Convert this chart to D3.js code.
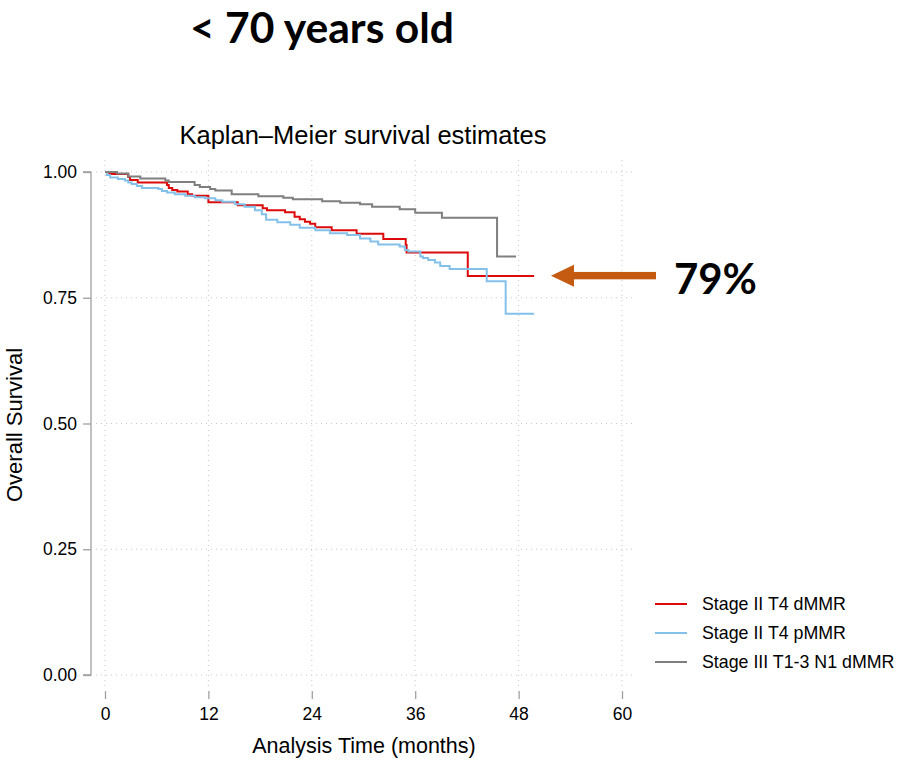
<!DOCTYPE html>
<html>
<head>
<meta charset="utf-8">
<script src="https://cdn.jsdelivr.net/npm/d3@7/dist/d3.min.js"></script>
<style>
  html, body { margin: 0; padding: 0; background: #ffffff; }
  svg { display: block; }
</style>
</head>
<body>
<script>
// ---------------- DATA ----------------
const seriesNames = ["Stage II T4 dMMR", "Stage II T4 pMMR", "Stage III T1-3 N1 dMMR"];
const seriesColors = ["#dc0a0a", "#84c1ea", "#7f7f7f"];

// Stage II T4 dMMR (red): step times (months) and survival after each step
const redTimes = [0, 0.5, 2.7, 2.9, 3.8, 7.2, 7.4, 7.8, 8.4, 9.6, 10.1, 12.0, 15.4, 18.3, 18.8, 20.9, 22.0, 22.6, 23.2, 23.8, 24.4, 26.3, 29.2, 32.3, 34.9, 35.0, 42.1];
const redSurv  = [1.000, 0.996, 0.990, 0.984, 0.979, 0.974, 0.968, 0.964, 0.961, 0.956, 0.953, 0.940, 0.934, 0.928, 0.924, 0.920, 0.911, 0.906, 0.901, 0.897, 0.890, 0.884, 0.877, 0.867, 0.855, 0.840, 0.793];
const redEnd = 49.8;

// Stage II T4 pMMR (light blue)
const blueTimes = [0, 0.2, 0.6, 1.5, 2.3, 2.7, 3.1, 3.7, 4.3, 6.2, 6.6, 7.2, 8.1, 9.3, 10.4, 11.6, 12.8, 13.6, 15.1, 16.2, 17.4, 18.2, 18.7, 20.0, 21.5, 22.6, 24.4, 26.1, 28.1, 29.6, 30.8, 31.7, 34.2, 34.8, 35.2, 36.6, 36.9, 37.5, 38.3, 38.9, 40.0, 44.3, 46.5];
const blueSurv  = [1.000, 0.994, 0.989, 0.986, 0.983, 0.979, 0.976, 0.972, 0.968, 0.966, 0.962, 0.959, 0.956, 0.953, 0.950, 0.948, 0.944, 0.941, 0.936, 0.931, 0.924, 0.916, 0.905, 0.900, 0.895, 0.889, 0.884, 0.878, 0.875, 0.868, 0.862, 0.856, 0.852, 0.845, 0.842, 0.832, 0.829, 0.825, 0.820, 0.813, 0.807, 0.783, 0.718];
const blueEnd = 49.8;

// Stage III T1-3 N1 dMMR (grey)
const greyTimes = [0, 1.4, 2.7, 4.1, 7.0, 7.4, 10.4, 11.0, 12.2, 12.8, 14.7, 17.8, 20.7, 21.8, 25.2, 27.3, 29.6, 31.0, 34.2, 36.0, 39.1, 45.5];
const greySurv  = [1.000, 0.997, 0.991, 0.987, 0.983, 0.980, 0.974, 0.970, 0.966, 0.963, 0.956, 0.952, 0.949, 0.946, 0.942, 0.939, 0.936, 0.931, 0.926, 0.919, 0.909, 0.832];
const greyEnd = 47.7;

const xTicks = [0, 12, 24, 36, 48, 60];
const yTicks = [0, 0.25, 0.5, 0.75, 1.0];

const mainTitle = "< 70 years old";
const chartTitle = "Kaplan\u2013Meier survival estimates";
const xTitle = "Analysis Time (months)";
const yTitle = "Overall Survival";
const annotationText = "79%";
const annotationValue = 0.79;

// ---------------- CHART ----------------
const W = 899, H = 761;
const svg = d3.select("body").append("svg").attr("width", W).attr("height", H);
const FONT = "'Liberation Sans', Arial, Helvetica, sans-serif";
const BOLD = "Lato, 'Open Sans', sans-serif";

const x = d3.scaleLinear().domain([0, 60]).range([105, 622]);
const y = d3.scaleLinear().domain([0, 1]).range([675, 172]);

// grid
const grid = svg.append("g");
grid.selectAll("line.h").data(yTicks).join("line")
  .attr("x1", 96).attr("x2", 634)
  .attr("y1", d => y(d)).attr("y2", d => y(d))
  .attr("stroke", "#c8c8c8").attr("stroke-width", 1).attr("stroke-dasharray", "1,4");
grid.selectAll("line.v").data(xTicks).join("line")
  .attr("y1", 160).attr("y2", 686)
  .attr("x1", d => x(d)).attr("x2", d => x(d))
  .attr("stroke", "#c8c8c8").attr("stroke-width", 1).attr("stroke-dasharray", "1,4");

// axes
const yAxis = d3.axisLeft(y).tickValues(yTicks).tickFormat(d3.format(".2f")).tickSize(8).tickPadding(6);
const gy = svg.append("g").attr("transform", "translate(91,0)").call(yAxis);
const xAxis = d3.axisBottom(x).tickValues(xTicks).tickFormat(d3.format("d")).tickSize(8).tickPadding(9);
const gx = svg.append("g").attr("transform", "translate(0,691)").call(xAxis);
[gx, gy].forEach(g => {
  g.select(".domain").attr("stroke", "#a0a0a0").attr("stroke-width", 1.3);
  g.selectAll(".tick line").attr("stroke", "#a0a0a0").attr("stroke-width", 1.3);
  g.selectAll(".tick text").attr("fill", "#000").style("font-family", FONT).style("font-size", "17.5px");
});
gy.select(".domain").attr("d", `M-8,${y(0)}H0V${y(1)}H-8`);
gx.select(".domain").attr("d", `M${x(0)},699V691H${x(60)}V699`);

// KM step curves
const line = d3.line().x(d => x(d[0])).y(d => y(d[1])).curve(d3.curveStepAfter);
function stepPoints(times, surv, end) {
  const pts = times.map((t, i) => [t, surv[i]]);
  pts.push([end, surv[surv.length - 1]]);
  return pts;
}
const curves = [
  stepPoints(redTimes, redSurv, redEnd),
  stepPoints(blueTimes, blueSurv, blueEnd),
  stepPoints(greyTimes, greySurv, greyEnd)
];
svg.append("g").selectAll("path").data(curves).join("path")
  .attr("d", line)
  .attr("fill", "none")
  .attr("stroke", (d, i) => seriesColors[i])
  .attr("stroke-width", 2);

// titles
svg.append("text").attr("x", 363).attr("y", 144).attr("text-anchor", "middle")
  .style("font-family", FONT).style("font-size", "25.5px").attr("fill", "#000").text(chartTitle);
svg.append("text").attr("x", 364).attr("y", 753).attr("text-anchor", "middle")
  .style("font-family", FONT).style("font-size", "21.5px").attr("fill", "#000").text(xTitle);
svg.append("text").attr("transform", "translate(22,425) rotate(-90)").attr("text-anchor", "middle")
  .style("font-family", FONT).style("font-size", "22px").attr("fill", "#000").text(yTitle);

const mt = svg.append("text").attr("x", 322).attr("y", 43).attr("text-anchor", "middle")
  .style("font-family", BOLD).style("font-weight", "bold").style("font-size", "42px").attr("fill", "#000").text(mainTitle);
{
  const w = mt.node().getComputedTextLength();
  if (w > 0) mt.style("font-size", (42 * 264 / w) + "px");
}

// legend
const lg = svg.append("g");
seriesNames.forEach((name, i) => {
  const yy = 604 + i * 29;
  lg.append("line").attr("x1", 655).attr("x2", 687).attr("y1", yy).attr("y2", yy)
    .attr("stroke", seriesColors[i]).attr("stroke-width", 2);
  lg.append("text").attr("x", 702).attr("y", yy + 6)
    .style("font-family", FONT).style("font-size", "17.8px").attr("fill", "#000").text(name);
});

// annotation arrow + text
const ay = y(annotationValue) - 2;
const arrowColor = "#c55a11";
svg.append("rect").attr("x", 570).attr("y", ay - 3.7).attr("width", 86).attr("height", 7.4).attr("fill", arrowColor);
svg.append("path").attr("d", `M551,${ay}L574,${ay - 11}L574,${ay + 11}Z`).attr("fill", arrowColor);
const at = svg.append("text").attr("x", 674).attr("y", ay + 18)
  .style("font-family", BOLD).style("font-weight", "bold").style("font-size", "42px").attr("fill", "#000").text(annotationText);
{
  const w = at.node().getComputedTextLength();
  if (w > 0) at.style("font-size", (42 * 83 / w) + "px");
}
</script>
</body>
</html>
